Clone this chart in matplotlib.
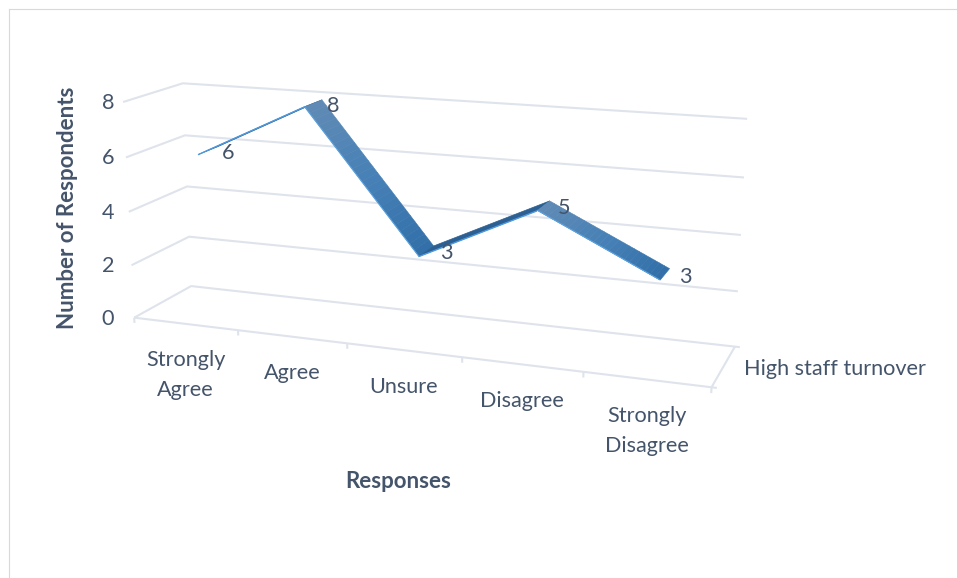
import matplotlib
matplotlib.use("Agg")
import matplotlib.pyplot as plt
import numpy as np
from matplotlib.lines import Line2D
from matplotlib.colors import to_rgb
from mpl_toolkits.mplot3d import proj3d
from mpl_toolkits.mplot3d.art3d import Poly3DCollection, Line3DCollection

plt.rcParams['font.family'] = ['Lato', 'DejaVu Sans']

# chart data
categories = ["Strongly\nAgree", "Agree", "Unsure", "Disagree", "Strongly\nDisagree"]
values = [6, 8, 3, 5, 3]
y_ticks = [0, 2, 4, 6, 8]
series_name = "High staff turnover"
x_title = "Responses"
y_title = "Number of Respondents"

TEXT = "#44546a"
GRID = "#dfe3eb"
FS = 15.6
FS_TITLE = 16.0
W, H = 957, 578

# camera fitted from the wall corners: (x, depth, z) -> picture pixel
calib_world = [(0, 0, 0), (0, 0, 2), (0, 0, 4), (0, 0, 6), (0, 0, 8),
               (0, 1, 0), (0, 1, 2), (0, 1, 4), (0, 1, 6), (0, 1, 8),
               (5, 1, 0), (5, 1, 2), (5, 1, 4), (5, 1, 6), (5, 1, 8),
               (5, 0, 0), (1, 0, 0), (2, 0, 0), (3, 0, 0), (4, 0, 0)]
calib_px = [(135, 318), (131, 265), (129, 212), (126, 157), (123, 102),
            (191, 286), (189, 237), (187, 187), (185, 135), (183, 83),
            (735, 346), (738, 291), (741, 235), (744, 178), (747, 119),
            (712, 387), (238, 330), (347, 343), (462, 358), (583, 372)]


def fit_camera(world, px):
    rows, rhs = [], []
    for (a, b, c), (u, v) in zip(world, px):
        rows.append([a, b, c, 1, 0, 0, 0, 0, -u * a, -u * b, -u * c])
        rows.append([0, 0, 0, 0, a, b, c, 1, -v * a, -v * b, -v * c])
        rhs += [u, v]
    p = np.linalg.lstsq(np.array(rows, float), np.array(rhs, float), rcond=None)[0]
    p = np.append(p, 1.0).reshape(3, 4)
    return np.array([p[0], p[1], [0, 1, 0, 0], p[2]])


M = fit_camera(calib_world, calib_px)

fig = plt.figure(figsize=(W / 100, H / 100), dpi=100, facecolor="white")

# 3D axes always stay square, so use a square box hanging below the figure
ax = fig.add_axes([0, 1 - W / H, 1, W / H], projection="3d")
ax.set_axis_off()
ax.patch.set_alpha(0)
ax.computed_zorder = False
ax.get_proj = lambda: M
ax.viewLim.intervalx = (0, W)
ax.viewLim.intervaly = (W, 0)


def px(x, d, z):
    return proj3d.proj_transform(x, d, z, M)[:2]


def line3(pts, color=GRID, lw=1.5, zorder=1):
    ax.add_collection3d(Line3DCollection([pts], colors=color, linewidths=lw, zorder=zorder))


def shade(a):
    # ribbon colour from the high end (a=0) to the low end (a=1)
    stops = [to_rgb("#5f8ab5"), to_rgb("#4680b6"), to_rgb("#316fa8")]
    return tuple(np.interp(a, [0, 0.5, 1], [s[j] for s in stops]) for j in range(3))


n = len(categories)

# walls and floor
for t in y_ticks:
    end = n + 0.04 if t == 0 else n
    line3([(0, 0, t), (0, 1, t), (end, 1, t)])
line3([(0, 0, 0), (n + 0.04, 0, 0)])
line3([(n, 0, 0), (n, 1, 0)])
for i in range(n + 1):
    line3([(i, 0, 0), (i, 0, -0.2)])

# ribbon
D0, D1 = 0.33, 0.67
zo = 3
for i in range(n - 1):
    x0, x1 = i + 0.5, i + 1.5
    v0, v1 = values[i], values[i + 1]
    if v1 > v0:
        # rising parts are seen almost edge on
        ax.add_collection3d(Poly3DCollection(
            [[(x0, D0, v0), (x1, D0, v1), (x1, D1, v1), (x0, D1, v0)]],
            facecolor="#2c5f92", edgecolor="#2c5f92", lw=0.5, zorder=zo))
        line3([(x0, D0, v0 - 0.03), (x1, D0, v1 - 0.03)], color="#4f9ade", lw=1.0, zorder=zo + 1)
    else:
        steps = 24
        for k in range(steps):
            a, b = k / steps, (k + 1) / steps
            xa, xb = x0 + a, x0 + b
            za, zb = v0 + a * (v1 - v0), v0 + b * (v1 - v0)
            c = shade(a)
            ax.add_collection3d(Poly3DCollection(
                [[(xa, D0, za), (xb, D0, zb), (xb, D1, zb), (xa, D1, za)]],
                facecolor=c, edgecolor=c, lw=0.4, zorder=zo))
        line3([(x0, D0, v0), (x1, D0, v1)], color="#5ba3e0", lw=0.8, zorder=zo + 1)
    zo += 2

# data labels
for i, v in enumerate(values):
    ax.annotate(str(v), xy=px(i + 0.5, 0.5, v), xytext=(15, -2), textcoords="offset points",
                ha="center", va="center", fontsize=FS, color=TEXT, zorder=20)

# tick labels
for t in y_ticks:
    ax.annotate(str(t), xy=(108, px(0, 0, t)[1] + 1), ha="center", va="center",
                fontsize=FS, color=TEXT, zorder=20)
for i, lab in enumerate(categories):
    ax.annotate(lab, xy=px(i + 0.5, 0, 0), xytext=(0, -19), textcoords="offset points",
                ha="center", va="top", fontsize=FS, color=TEXT, linespacing=1.62,
                multialignment="center", zorder=20)
ax.annotate(series_name, xy=px(n, 0.5, 0), xytext=(15, -2), textcoords="offset points",
            ha="left", va="center", fontsize=FS, color=TEXT, zorder=20)

# titles
fig.text(398 / W, 1 - 481 / H, x_title, ha="center", va="center",
         fontsize=FS_TITLE, fontweight="bold", color=TEXT)
fig.text(68 / W, 1 - 208 / H, y_title, ha="center", va="center", rotation=90,
         fontsize=FS_TITLE, fontweight="bold", color=TEXT)

# chart border
for xs, ys in [((9, W), (9, 9)), ((9, 9), (9, H))]:
    fig.add_artist(Line2D([x / W for x in xs], [1 - y / H for y in ys],
                          color="#d9d9d9", lw=0.8))

fig.savefig("out.png", dpi=100)
